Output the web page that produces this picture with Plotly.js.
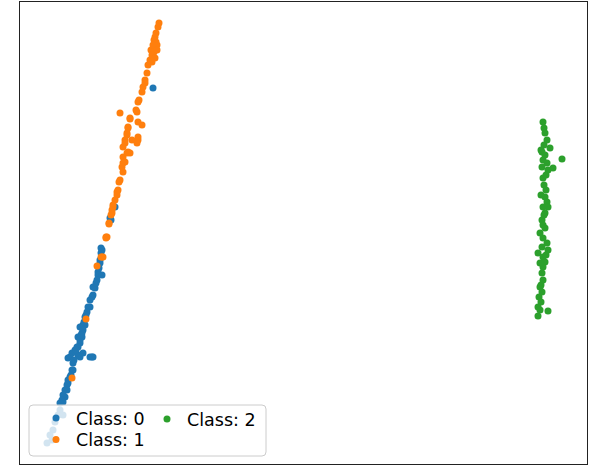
<!DOCTYPE html>
<html>
<head>
<meta charset="utf-8">
<script src="https://cdn.plot.ly/plotly-3.0.1.min.js"></script>
<style>html,body{margin:0;padding:0;background:#fff;}#chart{width:598px;height:465px;}</style>
</head>
<body>
<div id="chart"></div>
<script>
// Embedding coordinates (arbitrary units, no ticks shown)
const class0X = [133,95,90,91,82,81,80,80,78,78,82,77,75,73,73,72,70,70,68,67,65,65,63,60,63,62,62,58,60,60,57,58,55,52,50,48,58,60,63,70,72,73,53,53,52,50,48,48,47,47,45,45,43,42,43,40,40,38,43,35,33,30,32,27,66,64,61,56,54,51,76,79,81];
const class0Y = [376,257,246,244,214,211,204,201,192,189,189,184,176,177,169,167,164,157,157,152,147,139,139,137,134,131,127,127,124,121,117,117,114,111,107,106,109,107,111,107,107,107,101,94,94,87,84,81,79,74,74,67,69,64,62,61,54,49,49,42,34,29,24,21,149,142,129,114,104,89,181,196,216];

const class1X = [139,138,135,136,135,134,133,132,130,128,137,131,127,125,123,125,122,119,118,116,117,100,110,110,118,122,108,108,107,107,118,112,118,105,105,117,103,110,108,107,103,105,103,102,103,100,99,98,97,97,95,93,93,92,92,91,89,89,86,87,86,82,81,83,77,66,52,136,134,133,137,132,135];
const class1Y = [441,437,427,422,417,412,407,402,404,399,419,414,391,384,377,381,372,364,362,354,352,351,346,345,342,339,337,336,331,329,327,324,324,324,321,321,317,311,312,311,307,302,301,297,292,284,282,274,272,269,264,259,257,254,251,249,241,240,227,227,226,207,207,207,198,145,86,431,424,419,414,409,406];

const class2X = [523,524,525,527,530,522,525,523,527,522,533,542,528,523,524,526,525,527,523,528,525,522,523,525,523,527,522,528,518,523,525,523,522,523,520,522,519,521,518,528,518,524,521,526,521,524,520,526,520,521,520];
const class2Y = [342,336,331,324,316,312,309,304,301,297,296,305,294,286,279,274,267,262,257,257,251,244,239,236,226,221,217,214,211,207,202,197,191,184,177,172,167,162,157,153,148,319,314,289,269,249,231,209,201,179,154];

const classNames = ['Class: 0', 'Class: 1', 'Class: 2'];
const classColors = ['#1f77b4', '#ff7f0e', '#2ca02c'];
const xRange = [0, 567];
const yRange = [0, 462];

const W = 598, H = 465;
const margin = {l: 20, r: 11, t: 2, b: 1, pad: 0};
const plotW = W - margin.l - margin.r;
const plotH = H - margin.t - margin.b;
// pixel -> paper helpers (for legend/box placement only)
const px = p => (p - margin.l) / plotW;
const py = p => (H - margin.b - p) / plotH;

const markerSize = 7;
const font = {family: 'DejaVu Sans, sans-serif', size: 17.5, color: '#000'};

const traces = [
  {x: class0X, y: class0Y, name: classNames[0], legend: 'legend'},
  {x: class1X, y: class1Y, name: classNames[1], legend: 'legend3'},
  {x: class2X, y: class2Y, name: classNames[2], legend: 'legend2'}
].map((t, i) => Object.assign(t, {
  type: 'scatter', mode: 'markers',
  marker: {color: classColors[i], size: markerSize, line: {width: 0}},
  hoverinfo: 'skip'
}));

const legendBase = {
  bgcolor: 'rgba(0,0,0,0)', borderwidth: 0, font: font,
  xanchor: 'left', yanchor: 'middle', orientation: 'v'
};

// rounded legend frame
const bx0 = px(29), bx1 = px(266), by0 = py(456), by1 = py(405);
const rx = 4 / plotW, ry = 4 / plotH;
const boxPath = `M ${bx0+rx},${by1} L ${bx1-rx},${by1} Q ${bx1},${by1} ${bx1},${by1-ry} ` +
  `L ${bx1},${by0+ry} Q ${bx1},${by0} ${bx1-rx},${by0} L ${bx0+rx},${by0} Q ${bx0},${by0} ${bx0},${by0+ry} ` +
  `L ${bx0},${by1-ry} Q ${bx0},${by1} ${bx0+rx},${by1} Z`;

const layout = {
  width: W, height: H, margin: margin,
  paper_bgcolor: '#fff', plot_bgcolor: '#fff',
  showlegend: true,
  xaxis: {range: xRange, showticklabels: false, ticks: '', showgrid: false, zeroline: false,
          showline: true, mirror: true, linecolor: '#222', linewidth: 1.3, fixedrange: true},
  yaxis: {range: yRange, showticklabels: false, ticks: '', showgrid: false, zeroline: false,
          showline: true, mirror: true, linecolor: '#222', linewidth: 1.3, fixedrange: true},
  legend: Object.assign({}, legendBase, {x: px(36), y: py(418)}),
  legend2: Object.assign({}, legendBase, {x: px(147), y: py(419)}),
  legend3: Object.assign({}, legendBase, {x: px(36), y: py(439.5)}),
  shapes: [{
    type: 'path', xref: 'paper', yref: 'paper', path: boxPath, layer: 'above',
    fillcolor: 'rgba(255,255,255,0.8)', line: {color: 'rgb(204,204,204)', width: 1}
  }]
};

Plotly.newPlot('chart', traces, layout, {displayModeBar: false, staticPlot: true});
</script>
</body>
</html>
